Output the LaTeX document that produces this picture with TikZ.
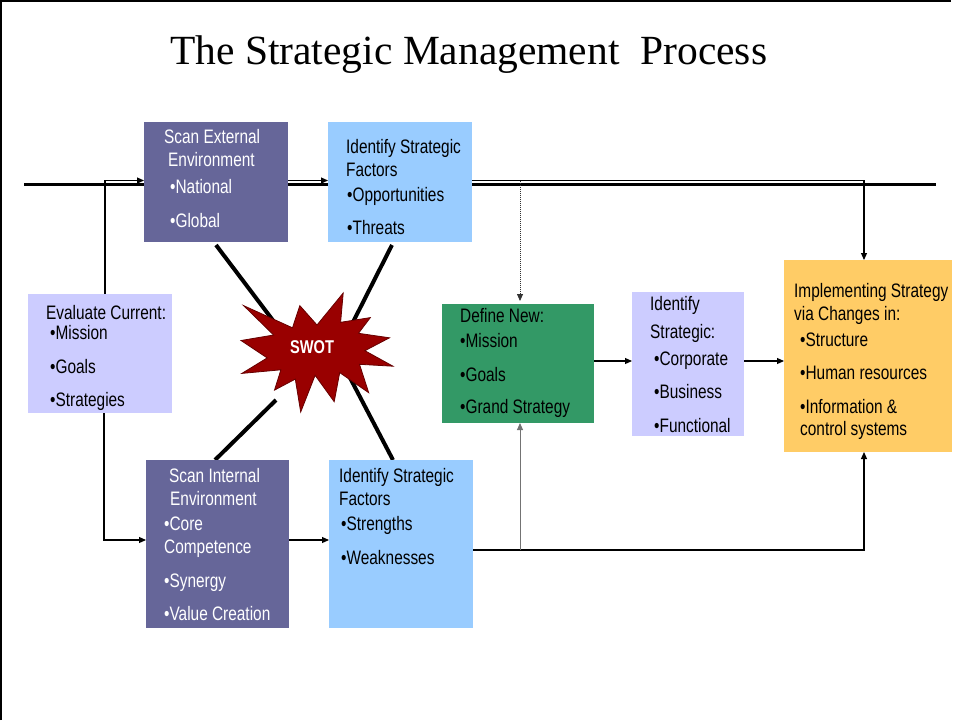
\documentclass[tikz,border=0pt]{standalone}
\usepackage{fontspec}
\setmainfont{Liberation Sans}[FakeStretch=0.79]
\newfontfamily\titlefont{Liberation Serif}
\usetikzlibrary{arrows.meta}
\definecolor{slate}{HTML}{666699}
\definecolor{lblue}{HTML}{99CCFF}
\definecolor{lav}{HTML}{CCCCFF}
\definecolor{dgreen}{HTML}{339966}
\definecolor{gold}{HTML}{FFCC66}
\definecolor{swotred}{HTML}{990000}
\definecolor{swotedge}{HTML}{660000}
\tikzset{
  box/.style={draw=none, inner sep=0, outer sep=0, anchor=north west},
  txt/.style={anchor=base west, inner sep=0, font=\fontsize{19.5}{23}\selectfont},
  wtxt/.style={txt, text=white},
  conn/.style={line width=1.1pt, -{Triangle[length=7pt,width=6pt]}},
  grayconn/.style={line width=1pt, draw=black!55, -{Triangle[length=7pt,width=6pt]}},
  dotconn/.style={line width=0.8pt, draw=black!80, dash pattern=on 1pt off 1pt, -{Triangle[length=7pt,width=6pt]}, shorten >=3pt},
  diag/.style={line width=4pt},
}
\begin{document}
\begin{tikzpicture}[x=1pt,y=-1pt]
\useasboundingbox (0,0) rectangle (960,720);
% frame
\coordinate (fa) at (1,720);
\coordinate (fb) at (1,1);
\coordinate (fc) at (951,1);
\draw[line width=2pt] (fa) -- (fb) -- (fc);
% title
\node[anchor=base west, inner sep=0, font=\titlefont\fontsize{41.5}{48}\selectfont] (title) at (170,64) {The Strategic Management\ \ Process};
% thick divider line
\coordinate (L) at (24,184.5);
\coordinate (R) at (936,184.5);
\draw[line width=3.2pt] (L) -- (R);
% diagonal lines to SWOT
\coordinate (d1a) at (216,245); \coordinate (d1b) at (284,335);
\coordinate (d2a) at (392,245); \coordinate (d2b) at (350,328);
\coordinate (d3a) at (215,460); \coordinate (d3b) at (276,400);
\coordinate (d4a) at (393,460); \coordinate (d4b) at (348,374);
\draw[diag] (d1a) -- (d1b);
\draw[diag] (d2a) -- (d2b);
\draw[diag] (d3a) -- (d3b);
\draw[diag] (d4a) -- (d4b);
% boxes
\node[box, fill=slate, minimum width=144pt, minimum height=120pt] (ext) at (144,122) {};
\node[box, fill=lblue, minimum width=144pt, minimum height=120pt] (ofac) at (328,122) {};
\node[box, fill=lav, minimum width=144pt, minimum height=119pt] (eval) at (28,294) {};
\node[box, fill=slate, minimum width=143pt, minimum height=168pt] (int) at (146,460) {};
\node[box, fill=lblue, minimum width=144pt, minimum height=168pt] (sfac) at (329,460) {};
\node[box, fill=dgreen, minimum width=152pt, minimum height=119pt] (def) at (442,304) {};
\node[box, fill=lav, minimum width=112pt, minimum height=144pt] (strat) at (632,292) {};
\node[box, fill=gold, minimum width=168pt, minimum height=192pt] (impl) at (784,260) {};
% SWOT star
\draw[fill=swotred, draw=swotedge, line width=0.8pt]
  (317,325) -- (343.2,293) -- (340.6,322.3) -- (370.3,317.6) -- (358.5,333.3) -- (389.5,337.8)
  -- (364.9,350.7) -- (393,366.2) -- (359.5,364.3) -- (368.7,392.7) -- (339.7,372.6) -- (334.2,401.7)
  -- (315.1,375.3) -- (300.7,412) -- (295.3,379.1) -- (274.5,390.1) -- (280.9,369.8) -- (241.9,373.4)
  -- (267.2,357.9) -- (241,340.5) -- (273.6,335) -- (243.6,305.6) -- (292.5,327.8) -- (299.8,305.6) -- cycle;
\node[inner sep=0, text=white, font=\bfseries\fontsize{18.5}{20}\selectfont] (swot) at (312,347) {SWOT};
% connectors
\coordinate (c1) at (105,180.5);
\coordinate (c2) at (864,180.5);
\coordinate (c3) at (520,180.5);
\coordinate (c4) at (104,540);
\coordinate (c5) at (864,550);
\coordinate (c6) at (520,550);
\draw[conn] (eval.north -| c1) |- (ext.west |- c1);
\draw[conn] (ext.east |- c1) -- (ofac.west |- c1);
\draw[conn] (ofac.east |- c2) -| (impl.north -| c2);
\draw[dotconn] (c3) -- (def.north -| c3);
\draw[conn] (eval.south -| c4) |- (int.west |- c4);
\draw[conn] (int.east |- c4) -- (sfac.west |- c4);
\draw[conn] (sfac.east |- c5) -| (impl.south -| c5);
\draw[grayconn] (c6) -- (def.south -| c6);
\coordinate (c7) at (0,361);
\draw[conn] (def.east |- c7) -- (strat.west |- c7);
\draw[conn] (strat.east |- c7) -- (impl.west |- c7);
% texts: scan external
\node[wtxt] (e1) at (164,143) {Scan External};
\node[wtxt] (e2) at (168,166) {Environment};
\node[wtxt] (e3) at (170,193) {•National};
\node[wtxt] (e4) at (170,227) {•Global};
% identify (O/T)
\node[txt] (o1) at (346,153) {Identify Strategic};
\node[txt] (o2) at (346,176) {Factors};
\node[txt] (o3) at (347,201) {•Opportunities};
\node[txt] (o4) at (347,234) {•Threats};
% evaluate
\node[txt] (v1) at (46,319) {Evaluate Current:};
\node[txt] (v2) at (50,339) {•Mission};
\node[txt] (v3) at (50,373) {•Goals};
\node[txt] (v4) at (50,406) {•Strategies};
% scan internal
\node[wtxt] (i1) at (169,482) {Scan Internal};
\node[wtxt] (i2) at (170,505) {Environment};
\node[wtxt] (i3) at (164,530) {•Core};
\node[wtxt] (i4) at (164,553) {Competence};
\node[wtxt] (i5) at (164,587) {•Synergy};
\node[wtxt] (i6) at (164,620) {•Value Creation};
% identify (S/W)
\node[txt] (s1) at (339,482) {Identify Strategic};
\node[txt] (s2) at (339,505) {Factors};
\node[txt] (s3) at (341,530) {•Strengths};
\node[txt] (s4) at (341,564) {•Weaknesses};
% define new
\node[txt] (n1) at (460,322) {Define New:};
\node[txt] (n2) at (460,347) {•Mission};
\node[txt] (n3) at (460,381) {•Goals};
\node[txt] (n4) at (460,413) {•Grand Strategy};
% identify strategic
\node[txt] (g1) at (650,310) {Identify};
\node[txt] (g2) at (650,338) {Strategic:};
\node[txt] (g3) at (654,365) {•Corporate};
\node[txt] (g4) at (654,398) {•Business};
\node[txt] (g5) at (654,432) {•Functional};
% implementing
\node[txt] (m1) at (794,297) {Implementing Strategy};
\node[txt] (m2) at (794,320) {via Changes in:};
\node[txt] (m3) at (800,346) {•Structure};
\node[txt] (m4) at (800,379) {•Human resources};
\node[txt] (m5) at (800,413) {•Information \&};
\node[txt] (m6) at (800,435) {control systems};
\end{tikzpicture}
\end{document}
